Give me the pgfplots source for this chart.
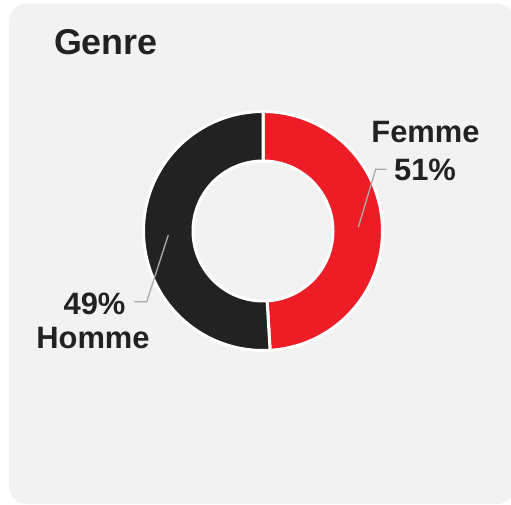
\documentclass[border=0pt]{standalone}
\usepackage{fontspec}
\setmainfont{Liberation Sans}
\usepackage{pgfplots}
\pgfplotsset{compat=1.18}
\definecolor{panel}{HTML}{F2F2F2}
\definecolor{femme}{HTML}{EE1C25}
\definecolor{homme}{HTML}{222222}
\definecolor{txt}{HTML}{222222}
\definecolor{lead}{HTML}{ABABAB}
\tikzset{labfont/.style={font=\bfseries\fontsize{31}{31}\selectfont, text=txt}}
% shares: Femme 51 %, Homme 49 %
% slice boundaries (degrees, counter-clockwise from east)
\def\cx{263}
\def\cy{231}
\def\ro{119.5}
\def\ri{70}
\begin{document}
\begin{tikzpicture}
\path[use as bounding box] (0,0) rectangle (511bp,505bp);
\begin{axis}[
  at={(0,0)}, anchor=south west,
  scale only axis, width=511bp, height=505bp,
  xmin=0, xmax=511, ymin=0, ymax=505, y dir=reverse,
  hide axis, clip=true,
]
\fill[panel, rounded corners=18bp] (axis cs:9,3.5) rectangle (axis cs:515,504);
% Femme slice
\addplot[draw=white, line width=3bp, fill=femme, domain=-86.6:90, samples=100, variable=\t]
  ({\cx+\ro*cos(t)}, {\cy-\ro*sin(t)}) -- (axis cs:\cx,\cy) -- cycle;
% Homme slice
\addplot[draw=white, line width=3bp, fill=homme, domain=90:273.4, samples=100, variable=\t]
  ({\cx+\ro*cos(t)}, {\cy-\ro*sin(t)}) -- (axis cs:\cx,\cy) -- cycle;
% hole
\addplot[draw=white, line width=3bp, fill=panel, domain=0:360, samples=120, variable=\t]
  ({\cx+\ri*cos(t)}, {\cy-\ri*sin(t)}) -- cycle;
% leader lines
\addplot[lead, line width=1.3bp] coordinates {(358.3,227.3) (375.7,169.3) (386.7,169.3)};
\addplot[lead, line width=1.3bp] coordinates {(168.3,235) (146.7,301.7) (134.3,301.7)};
% labels
\node[anchor=base west, font=\bfseries\fontsize{36}{36}\selectfont, text=txt] at (axis cs:50.5,55) {Genre};
\node[anchor=base, labfont] at (axis cs:425.5,142) {Femme};
\node[anchor=base, labfont] at (axis cs:425,180.5) {51\%};
\node[anchor=base, labfont] at (axis cs:94.5,314) {49\%};
\node[anchor=base, labfont] at (axis cs:93,348) {Homme};
\end{axis}
\end{tikzpicture}
\end{document}
